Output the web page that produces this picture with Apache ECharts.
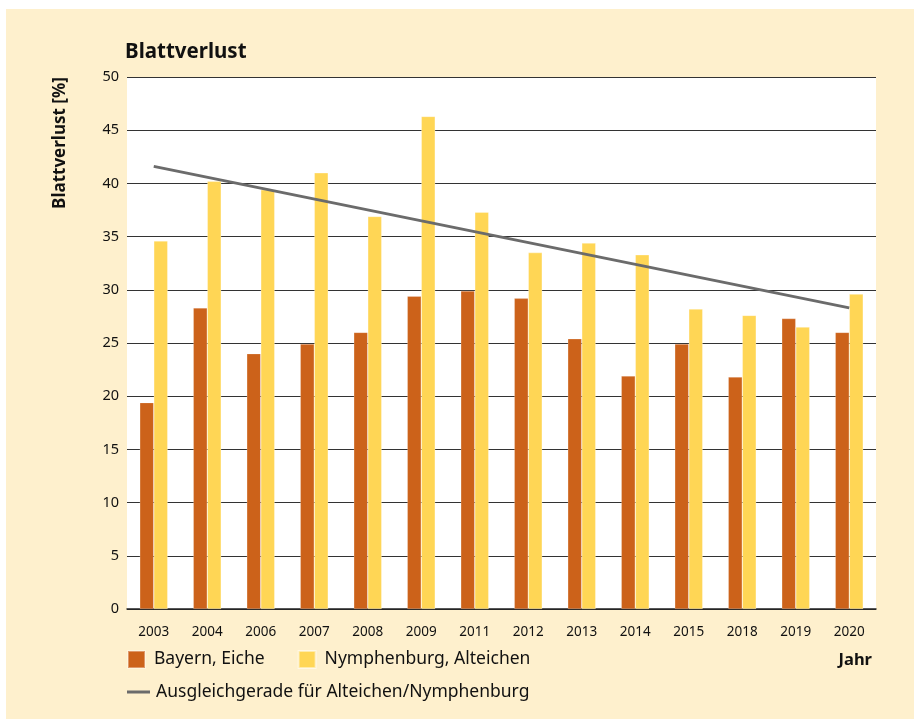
<!DOCTYPE html>
<html>
<head>
<meta charset="utf-8">
<script src="https://cdn.jsdelivr.net/npm/echarts@6/dist/echarts.min.js"></script>
<style>
  html, body { margin: 0; padding: 0; background: #ffffff; }
  #bg { position: absolute; left: 6px; top: 9px; width: 908px; height: 710px; background: #FEF0CD; }
  #chart { position: absolute; left: 0; top: 0; width: 920px; height: 722px; }
</style>
</head>
<body>
<div id="bg"></div>
<div id="chart"></div>
<script>
const years = ['2003','2004','2006','2007','2008','2009','2011','2012','2013','2014','2015','2018','2019','2020'];
const bayernEiche = [19.4, 28.3, 24.0, 24.9, 26.0, 29.4, 29.9, 29.2, 25.4, 21.9, 24.9, 21.8, 27.3, 26.0];
const nymphenburgAlteichen = [34.6, 40.2, 39.4, 41.0, 36.9, 46.3, 37.3, 33.5, 34.4, 33.3, 28.2, 27.6, 26.5, 29.6];
// Ausgleichgerade: endpoints (first and last year)
const trendStart = 41.6;
const trendEnd = 28.3;
const yTicks = { min: 0, max: 50, interval: 5 };

const trendData = years.map((y, i) => i === 0 ? trendStart : (i === years.length - 1 ? trendEnd : '-'));

const FONT = '"Noto Sans", sans-serif';
const chart = echarts.init(document.getElementById('chart'), null, { renderer: 'canvas' });
chart.setOption({
  backgroundColor: 'transparent',
  animation: false,
  textStyle: { fontFamily: FONT },
  title: {
    text: 'Blattverlust',
    left: 120, top: 37, padding: [5, 5, 5, 5],
    textStyle: { fontFamily: FONT, fontSize: 20.5, fontWeight: 'bold', color: '#111' }
  },
  grid: {
    left: 127, right: 44, top: 77, bottom: 113,
    show: true, backgroundColor: '#ffffff', borderWidth: 0
  },
  legend: [
    {
      data: ['Bayern, Eiche', 'Nymphenburg, Alteichen'],
      left: 127, top: 650, padding: 0,
      itemWidth: 17, itemHeight: 17, itemGap: 33,
      icon: 'rect',
      textStyle: { fontFamily: FONT, fontSize: 17.5, color: '#111', padding: [0, 0, 0, 4] }
    },
    {
      data: ['Ausgleichgerade für Alteichen/Nymphenburg'],
      left: 127, top: 683, padding: 0,
      itemWidth: 23, itemHeight: 3,
      icon: 'rect',
      textStyle: { fontFamily: FONT, fontSize: 17.5, color: '#111', padding: [0, 0, 0, 1] }
    }
  ],
  xAxis: {
    type: 'category',
    data: years,
    axisLine: { show: true, lineStyle: { color: '#222', width: 1.5 } },
    axisTick: { show: false },
    axisLabel: { color: '#111', fontSize: 13.5, margin: 16, fontFamily: FONT }
  },
  yAxis: {
    type: 'value',
    min: yTicks.min, max: yTicks.max, interval: yTicks.interval,
    axisLine: { show: false },
    axisTick: { show: false },
    axisLabel: { color: '#111', fontSize: 14.5, margin: 8, fontFamily: FONT },
    splitLine: { show: true, lineStyle: { color: '#333', width: 1.2 } }
  },
  graphic: [
    {
      type: 'text',
      x: 60, y: 143,
      rotation: Math.PI / 2,
      style: {
        text: 'Blattverlust [%]',
        fontFamily: FONT, fontSize: 17, fontWeight: 'bold', fill: '#111',
        align: 'center', verticalAlign: 'middle'
      }
    },
    {
      type: 'text',
      right: 48, top: 652,
      style: {
        text: 'Jahr',
        fontFamily: FONT, fontSize: 16.5, fontWeight: 'bold', fill: '#111'
      }
    }
  ],
  series: [
    {
      name: 'Bayern, Eiche',
      type: 'bar',
      data: bayernEiche,
      barWidth: 14,
      barGap: '0%',
      itemStyle: { color: '#CC621A', borderColor: 'rgba(255,255,255,0.35)', borderWidth: 0.6 }
    },
    {
      name: 'Nymphenburg, Alteichen',
      type: 'bar',
      data: nymphenburgAlteichen,
      barWidth: 14,
      barGap: '0%',
      itemStyle: { color: '#FFD655', borderColor: 'rgba(255,255,255,0.5)', borderWidth: 0.6 }
    },
    {
      name: 'Ausgleichgerade für Alteichen/Nymphenburg',
      type: 'line',
      data: trendData,
      connectNulls: true,
      symbol: 'none',
      z: 5,
      lineStyle: { color: '#6B6B6B', width: 3 },
      itemStyle: { color: '#6B6B6B' }
    }
  ]
});
</script>
</body>
</html>
